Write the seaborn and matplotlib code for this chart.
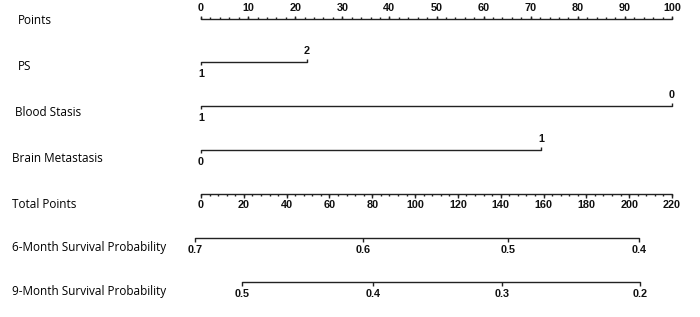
import numpy as np
import pandas as pd
import seaborn as sns
import matplotlib.pyplot as plt

# nomogram data (points scale 0-100, total points 0-220)
points_ticks = [0, 10, 20, 30, 40, 50, 60, 70, 80, 90, 100]
ps_levels = ['1', '2']
ps_points = [0, 22.5]
blood_levels = ['1', '0']
blood_points = [0, 100]
brain_levels = ['0', '1']
brain_points = [0, 72.2]
total_ticks = [0, 20, 40, 60, 80, 100, 120, 140, 160, 180, 200, 220]
surv6_labels = ['0.7', '0.6', '0.5', '0.4']
surv6_total = [-2.8, 75.7, 143.4, 204.6]
surv9_labels = ['0.5', '0.4', '0.3', '0.2']
surv9_total = [19.2, 80.4, 140.6, 205.0]
row_names = ['Points', 'PS', 'Blood Stasis', 'Brain Metastasis', 'Total Points',
             '6-Month Survival Probability', '9-Month Survival Probability']

sns.set_theme(style='white')
plt.rcParams['font.family'] = ['Open Sans', 'DejaVu Sans']

fig = plt.figure(figsize=(7, 3.17), dpi=100)
ax = fig.add_axes([0, 0, 1, 1])
# x in points units, y in pixel rows
px = 4.71  # pixels per point
ax.set_xlim(-201 / px, (700 - 201) / px)
ax.set_ylim(317, 0)
ax.axis('off')

tick_font = dict(family=['Liberation Sans', 'DejaVu Sans'], fontsize=7.8, fontweight='bold', color='#111111')
lw = 1.0


def seg(x0, x1, y):
    df = pd.DataFrame({'x': [x0, x1], 'y': [y, y]})
    sns.lineplot(data=df, x='x', y='y', ax=ax, color='#222222', lw=lw, estimator=None, sort=False)


def ticks(xs, y, ln):
    ax.vlines(xs, y, y + ln, color='#222222', lw=lw)


# Points row
y = 19
seg(0, 100, y)
ticks(np.arange(0, 101, 2), y, -1.8)
ticks(points_ticks, y, -3.5)
for v in points_ticks:
    ax.text(v, y - 11, str(v), ha='center', va='center', **tick_font)

# categorical rows: first level below, second above
for yl, lev, pts in [(62, ps_levels, ps_points), (106, blood_levels, blood_points),
                     (150, brain_levels, brain_points)]:
    seg(pts[0], pts[1], yl)
    ticks([pts[0]], yl, 3)
    ticks([pts[1]], yl, -3)
    ax.text(pts[0], yl + 12, lev[0], ha='center', va='center', **tick_font)
    ax.text(pts[1], yl - 11, lev[1], ha='center', va='center', **tick_font)

# Total points row
sc = 100 / 220
y = 194
seg(0, 220 * sc, y)
ticks(np.arange(0, 221, 4) * sc, y, 1.8)
ticks(np.array(total_ticks) * sc, y, 3.5)
for v in total_ticks:
    ax.text(v * sc, y + 11, str(v), ha='center', va='center', **tick_font)

# survival rows
for yl, labs, tot in [(238, surv6_labels, surv6_total), (282, surv9_labels, surv9_total)]:
    xs = np.array(tot) * sc
    seg(xs[0], xs[-1], yl)
    ticks(xs, yl, 3.5)
    for xv, lab in zip(xs, labs):
        ax.text(xv, yl + 12, lab, ha='center', va='center', **tick_font)

# row labels
label_y = [20, 67, 112, 158, 205, 248, 291]
label_x = [18, 18, 15, 12, 12, 12, 12]
for name, lx, ly in zip(row_names, label_x, label_y):
    ax.text((lx - 201) / px, ly, name, ha='left', va='center', fontsize=8.5, color='black')

fig.savefig('out.png', dpi=100)
